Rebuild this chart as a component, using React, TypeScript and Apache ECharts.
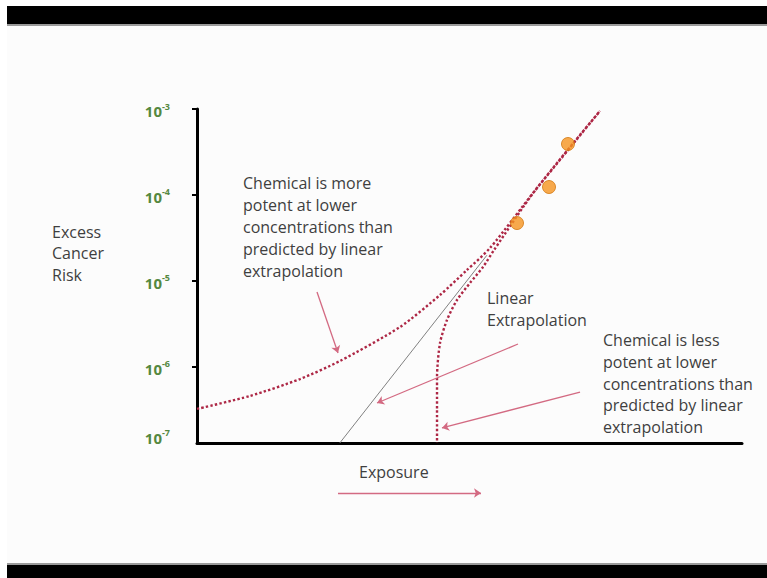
import React, { useEffect, useRef } from "react";
import * as echarts from "echarts";

// Axis in log10 units of risk; x is arbitrary exposure units (0..100)
const yTickValues = [-3, -4, -5, -6];
const yLabelValues = [-3, -4, -5, -6, -6.8];
const yLabelText = ["-3", "-4", "-5", "-6", "-7"];

const linearLine = [
  [26.2, -6.884],
  [53.2, -4.7],
];

const morePotent = [
  [0, -6.488],
  [9.72, -6.337],
  [18.9, -6.14],
  [26.24, -5.93],
  [37.25, -5.535],
  [44.59, -5.163],
  [49.54, -4.872],
  [53.76, -4.617],
  [62.0, -3.95],
  [73.94, -3.023],
];

const lessPotent = [
  [44.04, -6.884],
  [44.04, -6.5],
  [44.04, -6.116],
  [44.59, -5.721],
  [45.87, -5.453],
  [47.71, -5.221],
  [50.09, -5.023],
  [52.48, -4.837],
  [54.5, -4.64],
  [62.0, -3.95],
  [73.94, -3.023],
];

const observed = [
  [68.07, -3.407],
  [64.59, -3.907],
  [58.72, -4.326],
];

const arrows = [
  [[22.02, -5.128], [25.87, -5.837]],
  [[58.9, -5.733], [33.03, -6.419]],
  [[70.28, -6.291], [44.95, -6.709]],
  [[25.87, -7.465], [52.11, -7.465]],
];

const FONT = '"Open Sans", "Noto Sans", sans-serif';
const TXT = "#3f3f3f";
const DOT = "#ad2745";
const GREEN = "#55883f";

export default function App() {
  const ref = useRef<HTMLDivElement>(null);
  useEffect(() => {
    const chart = echarts.init(ref.current!, null, { renderer: "svg" });
    const txt = (x: number, y: number, text: string, size = 16, lh = 21.7) => ({
      type: "text",
      x,
      y,
      z: 50,
      style: {
        text,
        fill: TXT,
        font: `${size}px ${FONT}`,
        lineHeight: lh,
        verticalAlign: "top",
      },
    });
    chart.setOption({
      animation: false,
      backgroundColor: "#ffffff",
      grid: { left: 197, top: 109, right: 25, bottom: 135 },
      xAxis: {
        type: "value",
        min: 0,
        max: 100,
        axisLine: { lineStyle: { color: "#000", width: 3 } },
        axisTick: { show: false },
        axisLabel: { show: false },
        splitLine: { show: false },
      },
      yAxis: {
        type: "value",
        min: -6.884,
        max: -3,
        axisLine: { show: true, lineStyle: { color: "#000", width: 3 } },
        axisTick: {
          show: true,
          length: 5,
          lineStyle: { color: "#000", width: 2 },
          customValues: yTickValues,
        },
        axisLabel: {
          customValues: yLabelValues,
          margin: 27,
          formatter: (v: number) => {
            const i = yLabelValues.findIndex((u) => Math.abs(u - v) < 1e-6);
            return `{b|10}{s|${i >= 0 ? yLabelText[i] : ""}}`;
          },
          rich: {
            b: {
              color: GREEN,
              fontWeight: "bold",
              fontSize: 15,
              fontFamily: FONT,
              padding: [4, 0, 0, 0],
            },
            s: {
              color: GREEN,
              fontWeight: "bold",
              fontSize: 9,
              fontFamily: FONT,
              padding: [0, 0, 6, 0],
            },
          },
        },
        splitLine: { show: false },
      },
      graphic: [
        { type: "rect", z: -10, shape: { x: 7, y: 24, width: 760, height: 541 }, style: { fill: "#fcfcfc" } },
        { type: "rect", z: -10, shape: { x: 7, y: 6, width: 760, height: 18 }, style: { fill: "#000" } },
        { type: "rect", z: -10, shape: { x: 7, y: 24, width: 760, height: 2 }, style: { fill: "#9a9a9a" } },
        { type: "rect", z: -10, shape: { x: 7, y: 563, width: 760, height: 2 }, style: { fill: "#9a9a9a" } },
        { type: "rect", z: -10, shape: { x: 7, y: 565, width: 760, height: 13 }, style: { fill: "#000" } },
        txt(52, 221, "Excess\nCancer\nRisk", 16, 21.5),
        txt(243, 172, "Chemical is more\npotent at lower\nconcentrations than\npredicted by linear\nextrapolation", 16, 21.9),
        txt(487, 287, "Linear\nExtrapolation", 16, 22),
        txt(603, 329, "Chemical is less\npotent at lower\nconcentrations than\npredicted by linear\nextrapolation", 16, 21.8),
        txt(359, 461, "Exposure", 16, 22),
      ],
      series: [
        {
          type: "line",
          data: linearLine,
          symbol: "none",
          lineStyle: { color: "#808080", width: 1 },
          z: 2,
        },
        {
          type: "line",
          data: morePotent,
          symbol: "none",
          smooth: 0.25,
          lineStyle: { color: DOT, width: 2.4, type: [2.4, 2.2] },
          z: 3,
        },
        {
          type: "line",
          data: lessPotent,
          symbol: "none",
          smooth: 0.25,
          lineStyle: { color: DOT, width: 2.4, type: [2.4, 2.2], dashOffset: 2 },
          z: 3,
        },
        {
          type: "scatter",
          data: observed,
          symbolSize: 13,
          itemStyle: { color: "#f5931f", borderColor: "#d27812", borderWidth: 1 },
          z: 5,
        },
        {
          type: "lines",
          coordinateSystem: "cartesian2d",
          clip: false,
          symbol: ["none", "arrow"],
          symbolSize: 7,
          lineStyle: { color: "#d36a82", width: 1.3, opacity: 1 },
          data: arrows.map((c) => ({ coords: c })),
          z: 4,
        },
      ],
    });
    return () => chart.dispose();
  }, []);
  return (
    <div
      ref={ref}
      style={{ position: "fixed", left: 0, top: 0, width: 767, height: 578 }}
    />
  );
}
